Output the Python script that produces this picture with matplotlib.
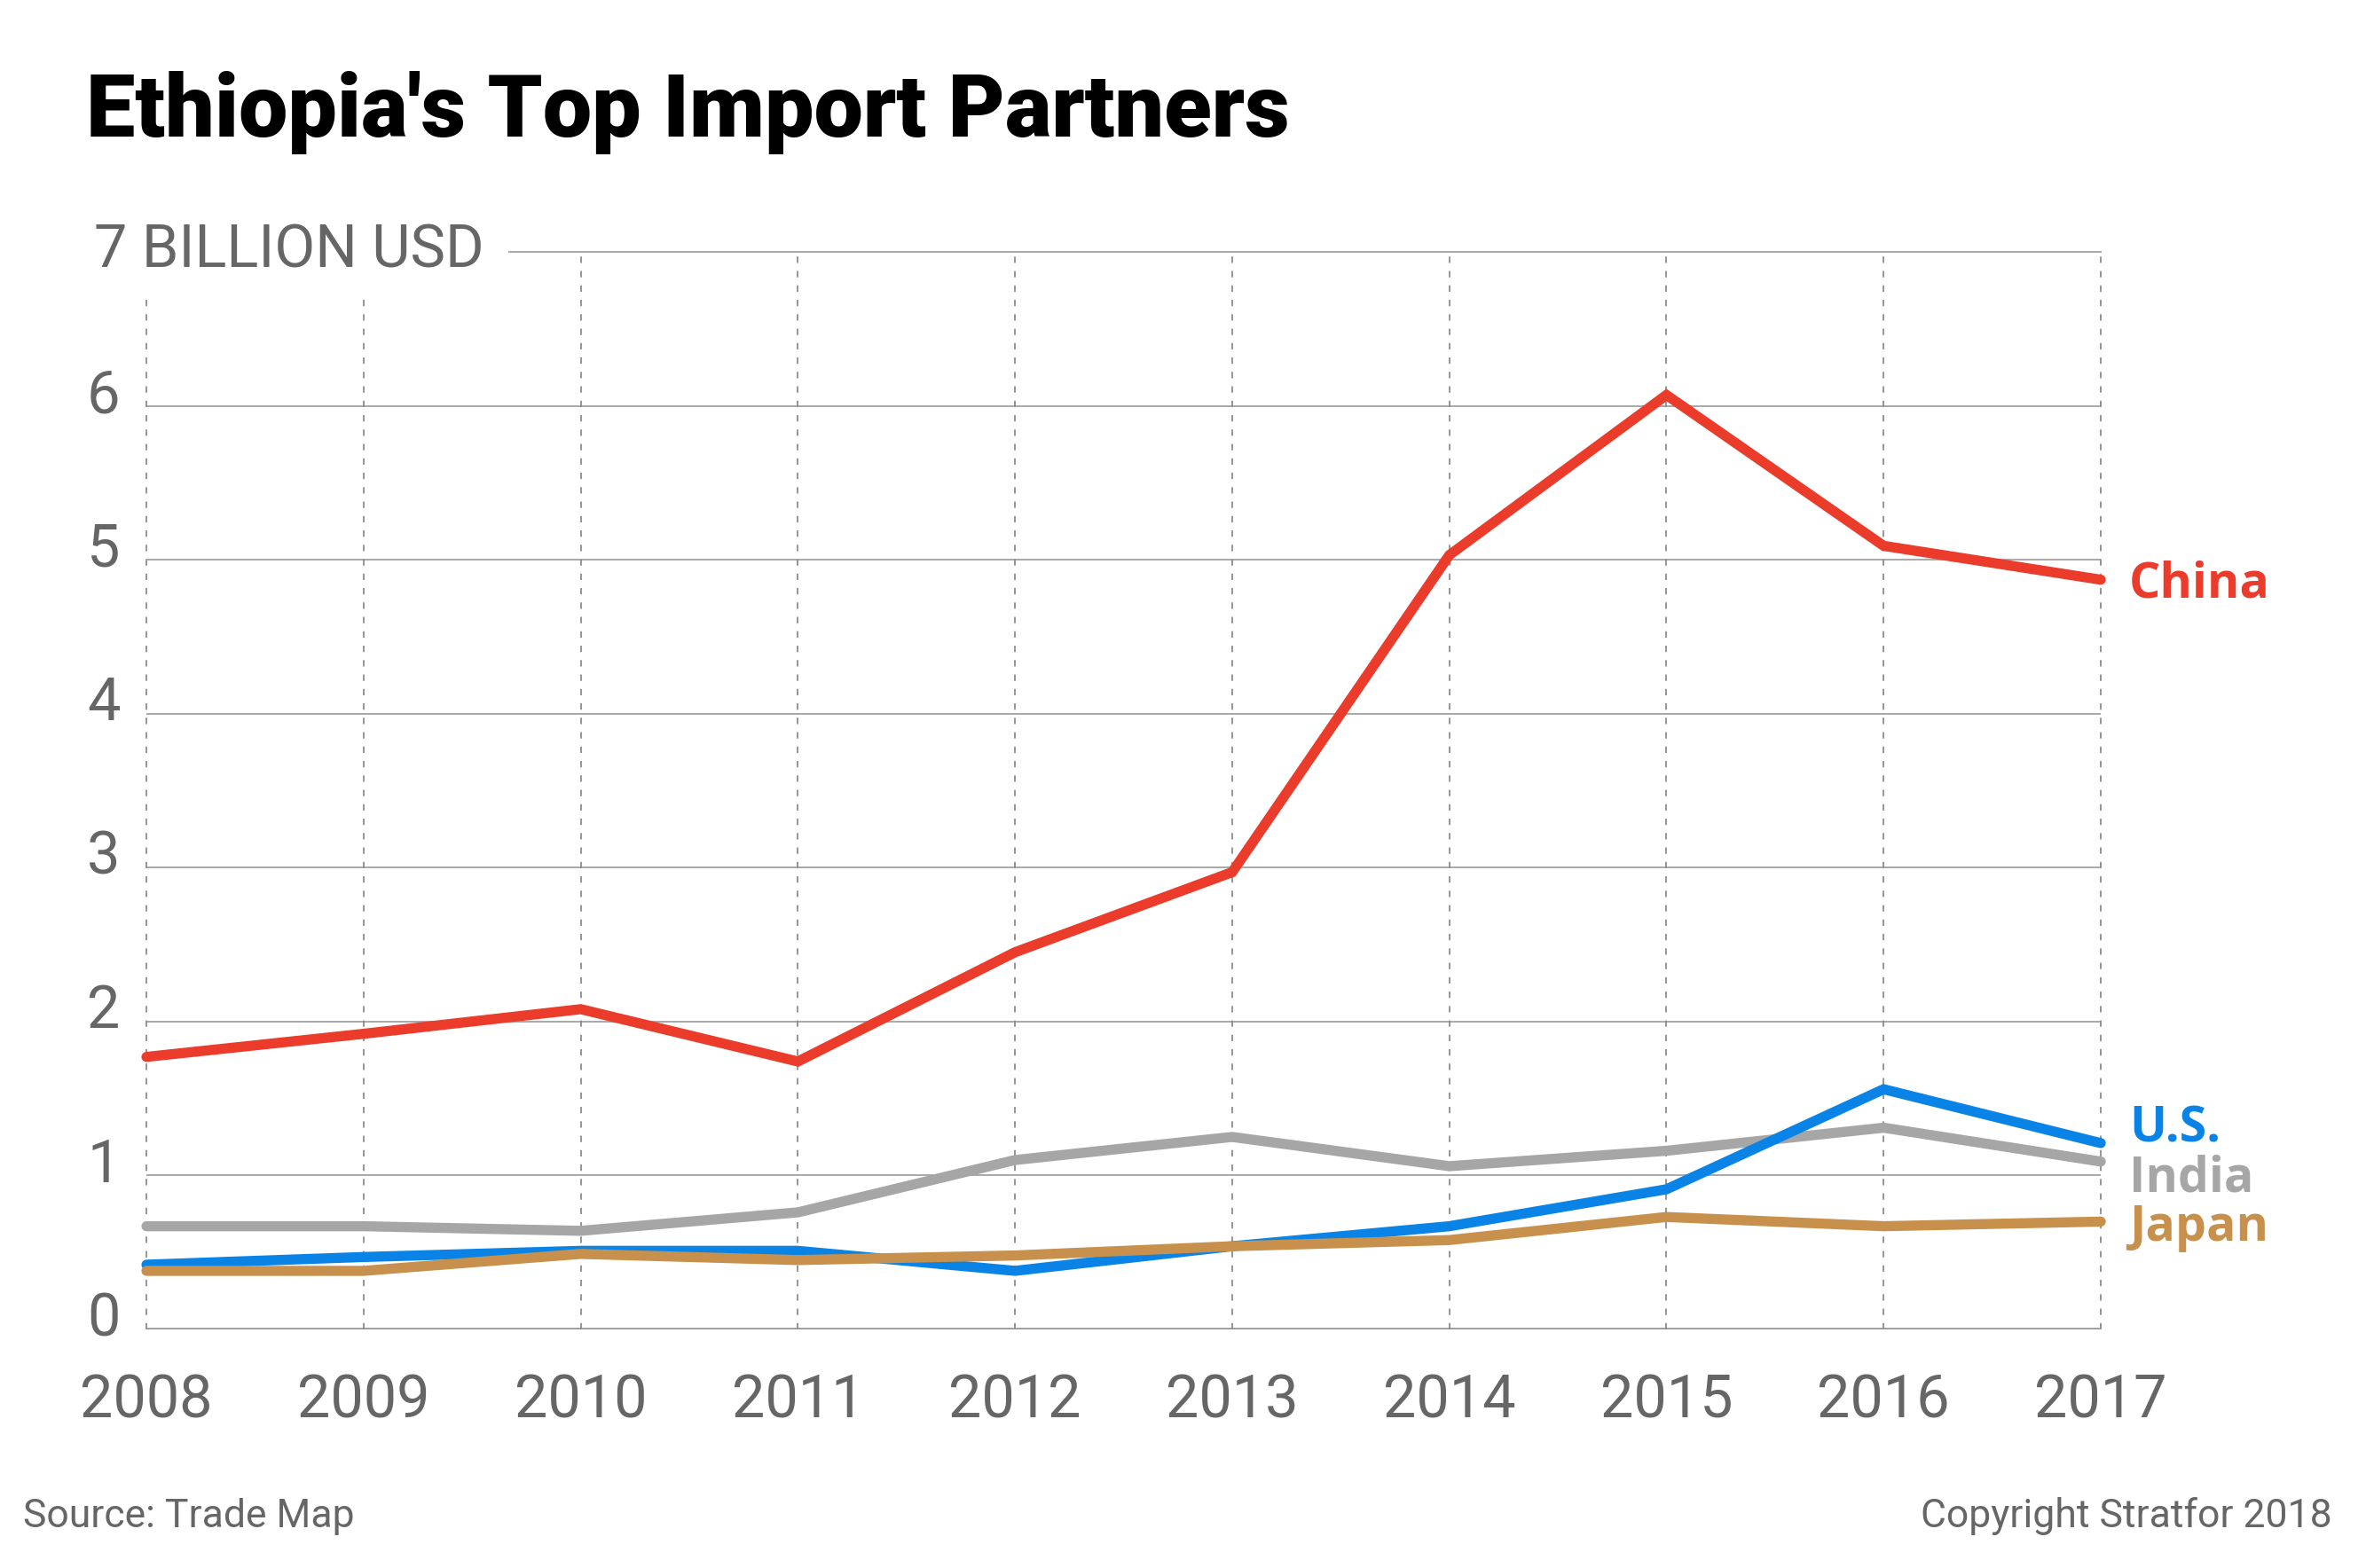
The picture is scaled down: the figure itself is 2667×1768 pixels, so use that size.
import matplotlib.pyplot as plt

years = [2008, 2009, 2010, 2011, 2012, 2013, 2014, 2015, 2016, 2017]
china = [1.77, 1.92, 2.08, 1.74, 2.45, 2.97, 5.03, 6.07, 5.09, 4.87]
us = [0.42, 0.47, 0.51, 0.51, 0.38, 0.54, 0.67, 0.91, 1.56, 1.21]
india = [0.67, 0.67, 0.64, 0.76, 1.10, 1.25, 1.06, 1.16, 1.31, 1.09]
japan = [0.38, 0.38, 0.49, 0.45, 0.48, 0.54, 0.58, 0.73, 0.67, 0.70]
yticks = [0, 1, 2, 3, 4, 5, 6]

FONT = 'Roboto'
TXT = '#666666'
GRID = '#a8a8a8'
col = {'China': '#ea3b2b', 'U.S.': '#0a83e6', 'India': '#a6a6a6', 'Japan': '#c7914d'}

fig = plt.figure(figsize=(26.67, 17.68), dpi=100)
ax = fig.add_axes([0.0619, 0.1522, 0.8260, 0.6872])
ax.set_xlim(2008, 2017)
ax.set_ylim(0, 7)
ax.axis('off')

# grid
for v in yticks[1:]:
    ax.axhline(v, color=GRID, lw=1.4, zorder=1)
ax.plot([2009.67, 2017], [7, 7], color=GRID, lw=1.4, zorder=1, clip_on=False)
ax.axhline(0, color='#999999', lw=3.4, zorder=1)
for yr in years:
    top = 6.73 if yr < 2010 else 7
    ax.plot([yr, yr], [0, top], color='#8c8c8c', lw=1.3, ls=(0, (4, 5)),
            zorder=1, clip_on=False)

# series
series = [('India', india), ('U.S.', us), ('Japan', japan), ('China', china)]
for name, vals in series:
    ax.plot(years, vals, color=col[name], lw=8.2, solid_capstyle='round',
            solid_joinstyle='miter', zorder=3, clip_on=False)

# end labels
lab_y = {'China': 4.84, 'U.S.': 1.30, 'India': 0.98, 'Japan': 0.66}
for name in ['China', 'U.S.', 'India', 'Japan']:
    ax.text(2017.13, lab_y[name], name, color=col[name], fontsize=40,
            fontweight='bold', family='Open Sans', va='center', ha='left')

# axis labels
for v in yticks:
    ax.text(2007.88, v + 0.06, str(v), color=TXT, fontsize=48, family=FONT,
            ha='right', va='center')
ax.text(2007.76, 7.0, '7 BILLION USD', color=TXT, fontsize=48, family=FONT,
        ha='left', va='center')
for yr in years:
    ax.text(yr, -0.47, str(yr), color=TXT, fontsize=48, family=FONT,
            ha='center', va='center')

fig.text(0.0364, 0.913, "Ethiopia's Top Import Partners", fontsize=71,
         fontweight='black', family=FONT, color='black', ha='left', va='baseline')
fig.text(0.0098, 0.033, 'Source: Trade Map', fontsize=32, family=FONT,
         color=TXT, ha='left', va='center')
fig.text(0.9855, 0.033, 'Copyright Stratfor 2018', fontsize=32, family=FONT,
         color=TXT, ha='right', va='center')

fig.savefig('out.png', dpi=100, facecolor='white')
